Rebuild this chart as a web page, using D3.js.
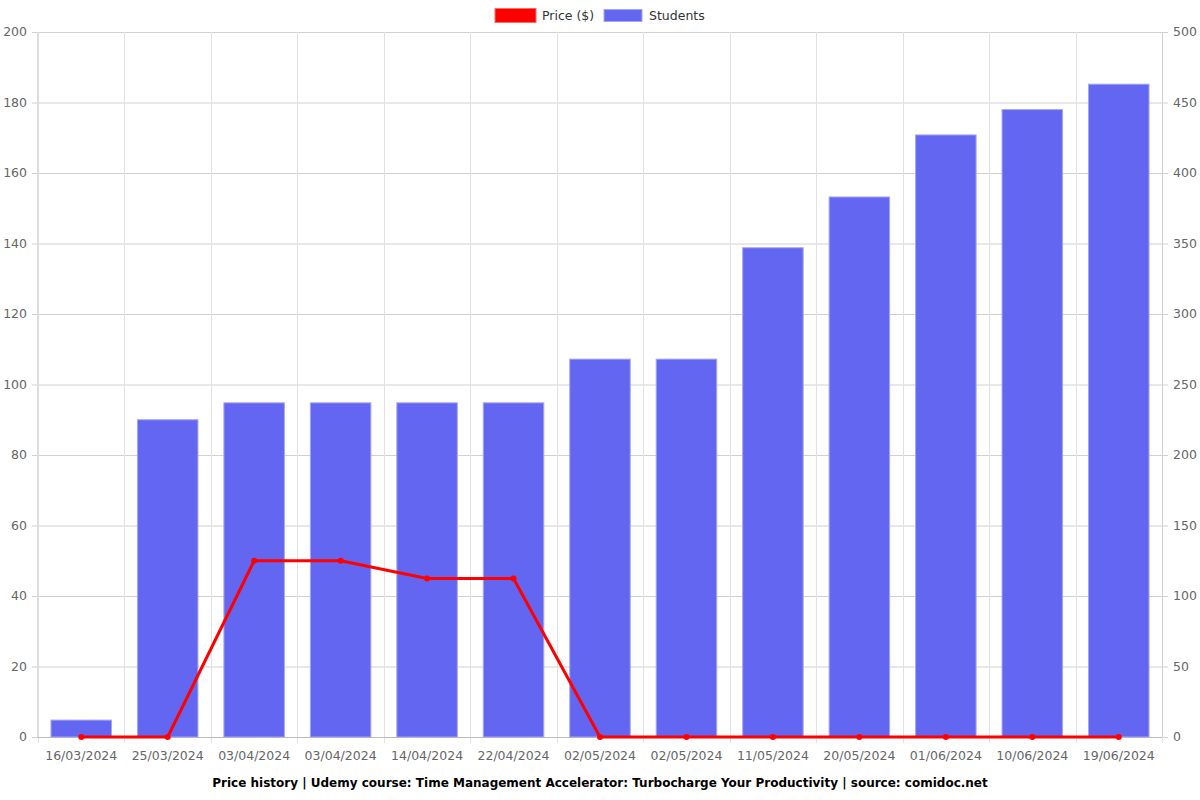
<!DOCTYPE html>
<html><head><meta charset="utf-8">
<script src="https://cdn.jsdelivr.net/npm/d3@7"></script>
<style>body{margin:0;background:#fff;font-family:"DejaVu Sans",sans-serif}</style>
</head><body><svg id="c" width="1200" height="800"></svg>
<script>
const categories=["16/03/2024","25/03/2024","03/04/2024","03/04/2024","14/04/2024","22/04/2024","02/05/2024","02/05/2024","11/05/2024","20/05/2024","01/06/2024","10/06/2024","19/06/2024"];
const price=[0,0,49.99,49.99,44.99,44.99,0,0,0,0,0,0,0];
const students=[12,225,237,237,237,237,268,268,347,383,427,445,463];
const leftTicks=[0,20,40,60,80,100,120,140,160,180,200];
const rightTicks=[0,50,100,150,200,250,300,350,400,450,500];

const svg=d3.select("#c");
const L=38,R=1162,T=32,B=737;
const idx=categories.map((d,i)=>i);
const x=d3.scaleBand().domain(idx).range([L,R]).paddingInner(0.3).paddingOuter(0.15);
const xc=d3.scaleBand().domain(idx).range([L,R]);
const yL=d3.scaleLinear().domain([0,200]).range([B,T]);
const yR=d3.scaleLinear().domain([0,500]).range([B,T]);

// grid horizontal
svg.append("g").selectAll("line").data(leftTicks).join("line")
 .attr("x1",L-6).attr("x2",R+6).attr("y1",d=>yL(d)+0.5).attr("y2",d=>yL(d)+0.5)
 .attr("stroke","#d0d0d0").attr("stroke-width",1);
// grid vertical
svg.append("g").selectAll("line").data(d3.range(categories.length+1)).join("line")
 .attr("x1",i=>Math.round(L+i*xc.step())+0.5).attr("x2",i=>Math.round(L+i*xc.step())+0.5)
 .attr("y1",T).attr("y2",B+6).attr("stroke","#e2e2e2").attr("stroke-width",1);
// axis lines
svg.append("line").attr("x1",L).attr("x2",L).attr("y1",T).attr("y2",B).attr("stroke","#dddddd").attr("stroke-width",2);
svg.append("line").attr("x1",R+0.5).attr("x2",R+0.5).attr("y1",T).attr("y2",B).attr("stroke","#d0d0d0");
svg.append("line").attr("x1",L).attr("x2",R).attr("y1",B+0.5).attr("y2",B+0.5).attr("stroke","#bbbbbb");

// bars
svg.append("g").selectAll("rect").data(students).join("rect")
 .attr("x",(d,i)=>x(i)).attr("width",x.bandwidth())
 .attr("y",d=>yR(d)).attr("height",d=>B-yR(d))
 .attr("fill","#6366f1").attr("stroke","#a5a7f5").attr("stroke-width",1);

// line
const line=d3.line().x((d,i)=>xc(i)+xc.bandwidth()/2).y(d=>yL(d));
svg.append("path").datum(price).attr("d",line).attr("fill","none").attr("stroke","#ff0000").attr("stroke-width",3).attr("stroke-linejoin","round");
svg.append("g").selectAll("circle").data(price).join("circle")
 .attr("cx",(d,i)=>xc(i)+xc.bandwidth()/2).attr("cy",d=>yL(d)).attr("r",3).attr("fill","#ff0000");

// tick labels
svg.append("g").selectAll("text").data(leftTicks).join("text")
 .attr("x",L-11).attr("y",d=>yL(d)).attr("dy","0.35em").attr("text-anchor","end")
 .attr("fill","#666").attr("font-size","12.5px").text(d=>d);
svg.append("g").selectAll("text").data(rightTicks).join("text")
 .attr("x",R+11).attr("y",d=>yR(d)).attr("dy","0.35em").attr("text-anchor","start")
 .attr("fill","#666").attr("font-size","12.5px").text(d=>d);
svg.append("g").selectAll("text").data(categories).join("text")
 .attr("x",(d,i)=>xc(i)+xc.bandwidth()/2).attr("y",760).attr("text-anchor","middle")
 .attr("fill","#666").attr("font-size","12.5px").text(d=>d);

// title
svg.append("text").attr("x",600).attr("y",787).attr("text-anchor","middle")
 .attr("font-weight","bold").attr("font-size","12px").attr("fill","#000")
 .text("Price history | Udemy course: Time Management Accelerator: Turbocharge Your Productivity | source: comidoc.net");

// legend
const lg=svg.append("g");
lg.append("rect").attr("x",495).attr("y",8.5).attr("width",41).attr("height",14).attr("fill","#ff0000").attr("stroke","#ff6b6b");
lg.append("text").attr("x",542).attr("y",20).attr("font-size","12.5px").attr("fill","#333").text("Price ($)");
lg.append("rect").attr("x",604).attr("y",9.5).attr("width",38).attr("height",12).attr("fill","#6366f1").attr("stroke","#a5a7f5");
lg.append("text").attr("x",649).attr("y",20).attr("font-size","12.5px").attr("fill","#333").text("Students");
</script></body></html>
